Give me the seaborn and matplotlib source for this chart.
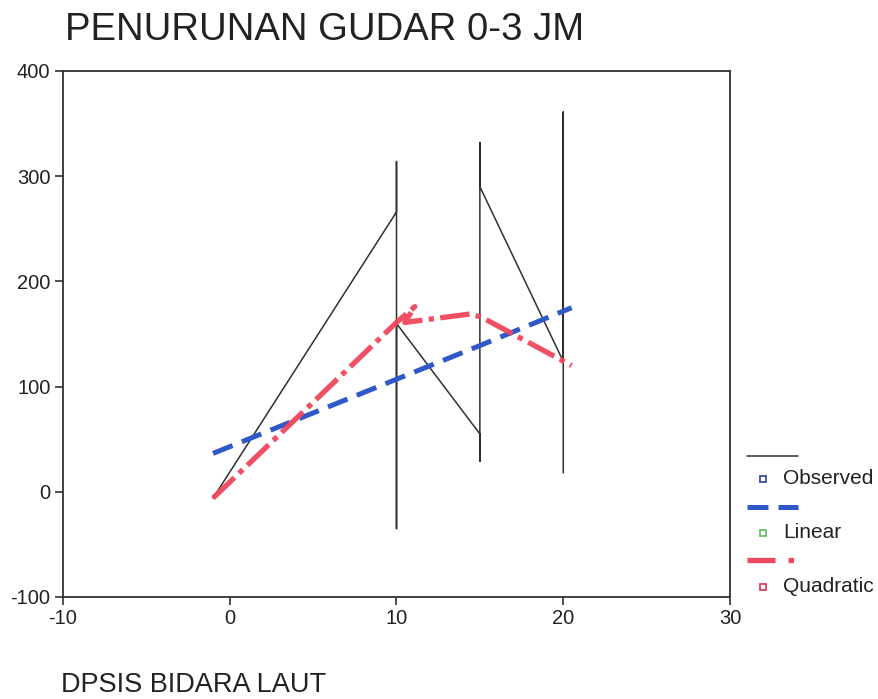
import matplotlib
matplotlib.use("Agg")
import matplotlib.pyplot as plt
from matplotlib.lines import Line2D
import seaborn as sns
import pandas as pd

# Observed cases, in case order (the line follows the data order)
obs_x = [-1, 10, 10, 10, 10, 15, 15, 15, 15, 20, 20, 20]
obs_y = [-6, 266, 314, -35, 160, 55, 29, 332, 290, 124, 361, 18]

# Linear fit
lin_x = [-1, 10, 15, 20.5]
lin_y = [36.5, 107, 139, 175]

# Quadratic fit
quad_x = [-1, 10, 11.1, 10.5, 14.4, 15.1, 20.5]
quad_y = [-6, 161, 176, 161, 169, 166, 120]

x_ticks = [-10, 0, 10, 20, 30]
y_ticks = [-100, 0, 100, 200, 300, 400]

title = "PENURUNAN GUDAR 0-3 JM"
footer = "DPSIS BIDARA LAUT"
legend_labels = ["Observed", "Linear", "Quadratic"]

sns.set_theme(style="white")
plt.rcParams["font.family"] = ["Liberation Sans", "DejaVu Sans"]
plt.rcParams["axes.unicode_minus"] = False

W, H = 879, 699
fig = plt.figure(figsize=(W / 100, H / 100), dpi=100)
ax = fig.add_axes([63 / W, 1 - 597 / H, (730 - 63) / W, (597 - 71) / H])

BLACK = "#303030"
BLUE = "#2f58c9"
RED = "#f0465c"
TEXT = "#222222"

obs = pd.DataFrame({"x": obs_x, "y": obs_y})
lin = pd.DataFrame({"x": lin_x, "y": lin_y})
quad = pd.DataFrame({"x": quad_x, "y": quad_y})

sns.lineplot(data=obs, x="x", y="y", ax=ax, estimator=None, sort=False,
             color=BLACK, linewidth=1.1)
sns.lineplot(data=lin, x="x", y="y", ax=ax, estimator=None, sort=False,
             color=BLUE, linewidth=3.6, linestyle=(0, (4.2, 2.0)))
sns.lineplot(data=quad, x="x", y="y", ax=ax, estimator=None, sort=False,
             color=RED, linewidth=3.8, linestyle=(0, (5.6, 1.2, 1.0, 1.2)),
             alpha=0.95)

ax.set_xlim(-10, 30)
ax.set_ylim(-100, 400)
ax.set_xticks(x_ticks)
ax.set_yticks(y_ticks)
ax.set_xlabel("")
ax.set_ylabel("")
for s in ax.spines.values():
    s.set_color("#303030")
    s.set_linewidth(1.3)
ax.tick_params(axis="both", direction="out", length=6, width=1.2,
               color="#303030", labelsize=14.5, labelcolor=TEXT,
               left=True, bottom=True, pad=3)


def fp(x, y):
    return x / W, 1 - y / H


# title and footer
fig.text(*fp(65, 30), title, fontsize=27.5, color=TEXT, va="center", ha="left")
fig.text(*fp(61, 685), footer, fontsize=19.5, color=TEXT, va="center", ha="left")

# legend drawn beside the plot area
samples = [
    dict(color=BLACK, lw=1.1, ls="-"),
    dict(color=BLUE, lw=3.6, ls=(0, (4.2, 2.0))),
    dict(color=RED, lw=3.8, ls=(0, (5.3, 2.5, 1.0, 2.5))),
]
marker_cols = ["#3c4fa0", "#6abf6a", "#d8405e"]
line_ys = [456, 507, 560]
label_ys = [479, 533, 587]
for smp, mc, ly, ty, lab in zip(samples, marker_cols, line_ys, label_ys, legend_labels):
    (x0, y0), (x1, _) = fp(747, ly), fp(798, ly)
    fig.add_artist(Line2D([x0, x1], [y0, y0], transform=fig.transFigure,
                          color=smp["color"], linewidth=smp["lw"], linestyle=smp["ls"]))
    mx, my = fp(763, ty)
    fig.add_artist(Line2D([mx], [my], transform=fig.transFigure, marker="s",
                          markersize=5, markerfacecolor="white",
                          markeredgecolor=mc, markeredgewidth=1.3, linestyle="none"))
    fig.text(*fp(783, ty), lab, fontsize=15, color=TEXT, va="center", ha="left")

fig.savefig("out.png", dpi=100)
